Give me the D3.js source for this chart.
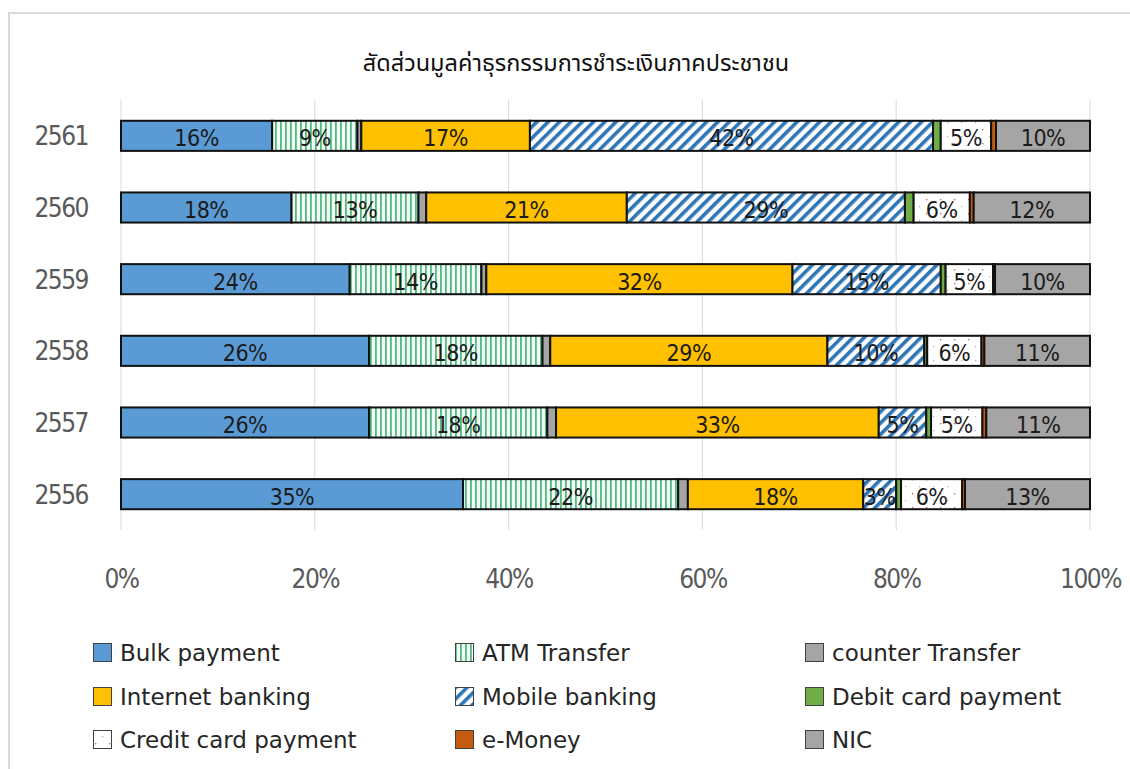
<!DOCTYPE html>
<html>
<head>
<meta charset="utf-8">
<script src="https://cdn.jsdelivr.net/npm/d3@7/dist/d3.min.js"></script>
<style>
  html, body { margin: 0; padding: 0; background: #fff; }
  svg { display: block; }
</style>
</head>
<body>
<svg id="chart" width="1130" height="769"></svg>
<script>
// Share of retail payment transaction value by channel, per Buddhist-era year
const title = "สัดส่วนมูลค่าธุรกรรมการชำระเงินภาคประชาชน";
const years = ["2561", "2560", "2559", "2558", "2557", "2556"];
const seriesNames = [
  "Bulk payment", "ATM Transfer", "counter Transfer",
  "Internet banking", "Mobile banking", "Debit card payment",
  "Credit card payment", "e-Money", "NIC"
];
// percent of total, one value per year (same order as `years`)
const bulkPayment     = [15.6, 17.6, 23.6, 25.6, 25.6, 35.3];
const atmTransfer     = [ 8.8, 13.1, 13.6, 17.9, 18.4, 22.2];
const counterTransfer = [ 0.4,  0.8,  0.5,  0.8,  0.9,  1.0];
const internetBanking = [17.4, 20.7, 31.6, 28.6, 33.3, 18.1];
const mobileBanking   = [41.6, 28.7, 15.3, 10.0,  4.9,  3.4];
const debitCard       = [ 0.8,  0.9,  0.5,  0.3,  0.5,  0.5];
const creditCard      = [ 5.2,  5.8,  4.9,  5.6,  5.3,  6.3];
const eMoney          = [ 0.5,  0.4,  0.2,  0.3,  0.4,  0.3];
const nic             = [ 9.7, 12.0,  9.8, 10.9, 10.7, 12.9];
const xTicks = [0, 0.2, 0.4, 0.6, 0.8, 1.0];

const seriesValues = [bulkPayment, atmTransfer, counterTransfer, internetBanking,
  mobileBanking, debitCard, creditCard, eMoney, nic];
// segments narrower than this carry no label
const labelMin = 2;

const narrow = "'Liberation Sans Narrow', 'DejaVu Sans Condensed', sans-serif";

const svg = d3.select("#chart");
const defs = svg.append("defs");

// vertical green stripes
const pAtm = defs.append("pattern").attr("id", "p-atm")
  .attr("patternUnits", "userSpaceOnUse").attr("width", 5).attr("height", 10);
pAtm.append("rect").attr("width", 5).attr("height", 10).attr("fill", "#f2fbf5");
pAtm.append("rect").attr("x", 0).attr("width", 1.8).attr("height", 10).attr("fill", "#52b982");

// diagonal blue hatch
const pMob = defs.append("pattern").attr("id", "p-mob")
  .attr("patternUnits", "userSpaceOnUse").attr("width", 8).attr("height", 8)
  .attr("patternTransform", "rotate(45)");
pMob.append("rect").attr("width", 8).attr("height", 8).attr("fill", "#ffffff");
pMob.append("rect").attr("x", 0).attr("width", 3.6).attr("height", 8).attr("fill", "#2e75b6");

// sparse dots
const pCc = defs.append("pattern").attr("id", "p-cc")
  .attr("patternUnits", "userSpaceOnUse").attr("width", 14).attr("height", 14);
pCc.append("rect").attr("width", 14).attr("height", 14).attr("fill", "#ffffff");
pCc.append("rect").attr("x", 2).attr("y", 3).attr("width", 1.3).attr("height", 1.3).attr("fill", "#d45c5c");
pCc.append("rect").attr("x", 9).attr("y", 10).attr("width", 1.2).attr("height", 1.2).attr("fill", "#b0b0b0");

const fills = ["#5b9bd5", "url(#p-atm)", "#a5a5a5", "#ffc000", "url(#p-mob)",
  "#70ad47", "url(#p-cc)", "#c55a11", "#a5a5a5"];

// chart frame
svg.append("rect").attr("x", 9).attr("y", 13).attr("width", 1140).attr("height", 780)
  .attr("fill", "none").attr("stroke", "#d9d9d9").attr("stroke-width", 2);

svg.append("text").attr("x", 576).attr("y", 71).attr("text-anchor", "middle")
  .attr("font-family", "Tahoma, 'Noto Sans Thai', 'Noto Sans', 'DejaVu Sans', sans-serif")
  .attr("font-size", 23.5).attr("fill", "#111").text(title);

const x = d3.scaleLinear().domain([0, 1]).range([121, 1090]);
const y = d3.scaleBand().domain(years).range([100, 530])
  .paddingInner(0.58).paddingOuter(0.29);

// gridlines
svg.append("g").selectAll("line").data(xTicks).join("line")
  .attr("x1", d => x(d)).attr("x2", d => x(d))
  .attr("y1", 100).attr("y2", 530)
  .attr("stroke", "#d9d9d9").attr("stroke-width", 1);

// x axis
const xAxis = svg.append("g").attr("transform", "translate(0,567)")
  .call(d3.axisBottom(x).tickValues(xTicks).tickSize(0).tickFormat(d3.format(".0%")));
xAxis.select(".domain").remove();
xAxis.selectAll("text")
  .attr("font-family", narrow).attr("letter-spacing", -1.5)
  .attr("font-size", 26).attr("fill", "#595959");

// y axis
const yAxis = svg.append("g").attr("transform", "translate(121,0)")
  .call(d3.axisLeft(y).tickSize(0).tickPadding(33));
yAxis.select(".domain").remove();
yAxis.selectAll("text")
  .attr("font-family", narrow).attr("letter-spacing", -1.5)
  .attr("font-size", 26).attr("fill", "#595959").attr("dy", "0.36em");

// stacked bars
const rows = years.map((yr, i) => {
  const r = { year: yr };
  seriesNames.forEach((s, k) => { r[s] = seriesValues[k][i]; });
  return r;
});
const stacked = d3.stack().keys(seriesNames)(rows);

const layers = svg.append("g").selectAll("g").data(stacked).join("g")
  .attr("fill", (d, k) => fills[k]);
layers.selectAll("rect").data(d => d).join("rect")
  .attr("x", d => x(d[0] / 100))
  .attr("width", d => x(d[1] / 100) - x(d[0] / 100))
  .attr("y", d => y(d.data.year))
  .attr("height", y.bandwidth())
  .attr("stroke", "#111").attr("stroke-width", 2);

// data labels
const labels = svg.append("g")
  .attr("font-family", narrow).attr("letter-spacing", -0.5)
  .attr("font-size", 23).attr("fill", "#1b1b1b").attr("text-anchor", "middle");
stacked.forEach(layer => {
  layer.forEach(d => {
    const v = d[1] - d[0];
    if (v < labelMin) return;
    labels.append("text")
      .attr("x", (x(d[0] / 100) + x(d[1] / 100)) / 2)
      .attr("y", y(d.data.year) + y.bandwidth() / 2)
      .attr("dy", "0.45em")
      .text(Math.round(v) + "%");
  });
});

// legend, three columns
const legendCols = [93, 455, 805];
const legendRows = [653, 697, 740];
const legend = svg.append("g")
  .attr("font-family", "Tahoma, 'DejaVu Sans', sans-serif")
  .attr("font-size", 23).attr("fill", "#262626");
seriesNames.forEach((s, k) => {
  const gx = legendCols[k % 3], gy = legendRows[Math.floor(k / 3)];
  const item = legend.append("g").attr("transform", `translate(${gx},${gy})`);
  item.append("rect").attr("x", 0.5).attr("y", -9.5).attr("width", 18).attr("height", 18)
    .attr("fill", fills[k]).attr("stroke", "#404040").attr("stroke-width", 1);
  item.append("text").attr("x", 27).attr("y", 0).attr("dy", "0.36em").text(s);
});
</script>
</body>
</html>
